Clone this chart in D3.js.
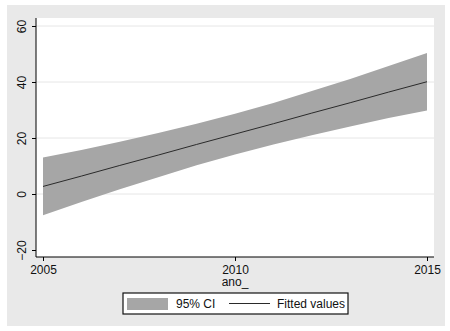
<!DOCTYPE html>
<html>
<head>
<meta charset="utf-8">
<script src="https://cdn.jsdelivr.net/npm/d3@7"></script>
<style>
  body { margin: 0; background: #fff; }
  svg { display: block; font-family: "Liberation Sans", Arial, sans-serif; }
</style>
</head>
<body>
<div id="chart"></div>
<script>
// values
const years = [2005, 2006, 2007, 2008, 2009, 2010, 2011, 2012, 2013, 2014, 2015];
const fitted = [2.7, 6.4, 10.2, 13.9, 17.7, 21.4, 25.1, 28.9, 32.6, 36.4, 40.1];
const upper = [13.0, 15.7, 18.7, 21.8, 25.1, 28.7, 32.5, 36.8, 41.1, 45.7, 50.4];
const lower = [-7.6, -2.9, 1.7, 6.0, 10.3, 14.1, 17.7, 21.0, 24.1, 27.1, 29.8];
const yTicks = [-20, 0, 20, 40, 60];
const xTicks = [2005, 2010, 2015];
const legendLabels = ["95% CI", "Fitted values"];

const width = 450, height = 331;
const bandColor = "#a6a6a6";

const svg = d3.select("#chart").append("svg")
  .attr("width", width)
  .attr("height", height);

// outer gray panel
svg.append("rect")
  .attr("x", 7).attr("y", 5)
  .attr("width", 438).attr("height", 321)
  .attr("fill", "#e9e9e9");

// plot region
const plot = { left: 36, right: 434, top: 18, bottom: 257 };
svg.append("rect")
  .attr("x", plot.left).attr("y", plot.top)
  .attr("width", plot.right - plot.left).attr("height", plot.bottom - plot.top)
  .attr("fill", "#fff");

const x = d3.scaleLinear().domain([2005, 2015]).range([43, 427]);
const y = d3.scaleLinear().domain([-20, 60]).range([250, 26]);

// gridlines
svg.selectAll(".grid")
  .data(yTicks.filter(d => d !== -20))
  .enter().append("line")
  .attr("x1", plot.left).attr("x2", plot.right)
  .attr("y1", d => y(d)).attr("y2", d => y(d))
  .attr("stroke", "#e6e6e6").attr("stroke-width", 1);

const rows = years.map((yr, i) => ({ yr, f: fitted[i], lo: lower[i], hi: upper[i] }));

svg.append("path")
  .datum(rows)
  .attr("fill", bandColor)
  .attr("d", d3.area().x(d => x(d.yr)).y0(d => y(d.lo)).y1(d => y(d.hi)));

svg.append("path")
  .datum(rows)
  .attr("fill", "none")
  .attr("stroke", "#2a2a2a")
  .attr("stroke-width", 1)
  .attr("d", d3.line().x(d => x(d.yr)).y(d => y(d.f)));

// y axis
const yAxis = svg.append("g")
  .attr("transform", `translate(${plot.left},0)`)
  .call(d3.axisLeft(y).tickValues(yTicks).tickSize(4).tickSizeOuter(0).tickFormat(d3.format("d")));
yAxis.select(".domain").attr("d", `M0,${plot.top}V${plot.bottom}`).attr("stroke", "#000");
yAxis.selectAll("text")
  .attr("transform", "rotate(-90)")
  .attr("x", 0).attr("y", -10)
  .attr("dy", 0)
  .attr("text-anchor", "middle")
  .style("font-size", "12px")
  .attr("fill", "#111");

// x axis
const xAxis = svg.append("g")
  .attr("transform", `translate(0,${plot.bottom})`)
  .call(d3.axisBottom(x).tickValues(xTicks).tickSize(4).tickSizeOuter(0).tickFormat(d3.format("d")));
xAxis.select(".domain").attr("d", `M${plot.left},0H${plot.right}`).attr("stroke", "#000");
xAxis.selectAll("text")
  .attr("y", 8)
  .style("font-size", "12px")
  .attr("fill", "#111");

svg.append("text")
  .attr("x", x(2010)).attr("y", 286)
  .attr("text-anchor", "middle")
  .style("font-size", "12px")
  .attr("fill", "#111")
  .text("ano_");

// legend
const lg = svg.append("g");
lg.append("rect")
  .attr("x", 123).attr("y", 293)
  .attr("width", 225).attr("height", 21)
  .attr("fill", "#fff").attr("stroke", "#111").attr("stroke-width", 1.2);
lg.append("rect")
  .attr("x", 127).attr("y", 298)
  .attr("width", 41).attr("height", 12)
  .attr("fill", bandColor);
lg.append("text")
  .attr("x", 176).attr("y", 308)
  .style("font-size", "12px").attr("fill", "#111")
  .text(legendLabels[0]);
lg.append("line")
  .attr("x1", 229).attr("x2", 270)
  .attr("y1", 303.5).attr("y2", 303.5)
  .attr("stroke", "#2a2a2a").attr("stroke-width", 1);
lg.append("text")
  .attr("x", 277).attr("y", 308)
  .style("font-size", "12px").attr("fill", "#111")
  .text(legendLabels[1]);
</script>
</body>
</html>
